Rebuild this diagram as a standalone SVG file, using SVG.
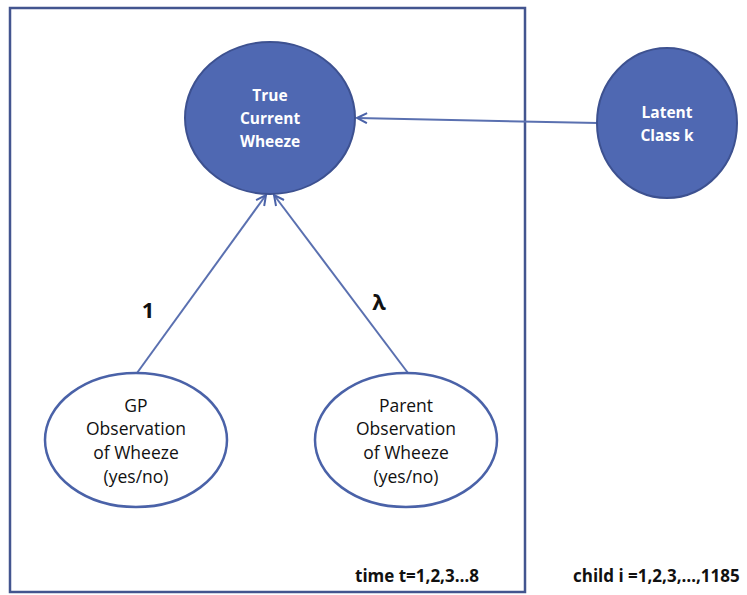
<svg xmlns="http://www.w3.org/2000/svg" width="747" height="595" viewBox="0 0 747 595">
<style>
.frame{fill:none;stroke:#43558f;stroke-width:2.5}
.dark{fill:#4f68b2;stroke:#3d5190;stroke-width:2}
.light{fill:#ffffff;stroke:#4a62a8;stroke-width:2.5}
.wt{font-family:"Open Sans","Noto Sans",sans-serif;font-size:15.5px;font-weight:bold;fill:#ffffff;text-anchor:middle}
.bt{font-family:"Open Sans","Noto Sans",sans-serif;font-size:17.5px;fill:#111111;text-anchor:middle}
.lbl{font-family:"Open Sans","Noto Sans",sans-serif;font-size:22px;font-weight:bold;fill:#111111;text-anchor:middle}
.ft{font-family:"Open Sans","Noto Sans",sans-serif;font-size:17px;font-weight:bold;fill:#111111}
.edge{stroke:#5a70b0;stroke-width:2;fill:none}
</style>
<defs>
<marker id="arr" viewBox="0 0 12 12" refX="11" refY="6" markerWidth="12" markerHeight="12" markerUnits="userSpaceOnUse" orient="auto">
<path d="M1,1 L11,6 L1,11" fill="none" stroke="#4a62a8" stroke-width="2"/>
</marker>
</defs>
<rect class="frame" x="10" y="8" width="515" height="584"/>
<g id="connectors">
<line class="edge" x1="598" y1="123" x2="357" y2="118" marker-end="url(#arr)"/>
<line class="edge" x1="137" y1="373" x2="266" y2="195" marker-end="url(#arr)"/>
<line class="edge" x1="408" y1="373" x2="274" y2="195" marker-end="url(#arr)"/>
<text class="lbl" x="148" y="318">1</text>
<text class="lbl" x="379" y="310">λ</text>
</g>
<g id="true-current-wheeze">
<ellipse class="dark" cx="270" cy="118" rx="85" ry="76"/>
<text class="wt" x="270" y="101">True</text>
<text class="wt" x="270" y="124">Current</text>
<text class="wt" x="270" y="147">Wheeze</text>
</g>
<g id="latent-class">
<ellipse class="dark" cx="667" cy="123" rx="70" ry="75"/>
<text class="wt" x="667" y="118">Latent</text>
<text class="wt" x="667" y="141">Class k</text>
</g>
<g id="gp-observation">
<ellipse class="light" cx="136" cy="440" rx="91" ry="67"/>
<text class="bt" x="136" y="412">GP</text>
<text class="bt" x="136" y="435">Observation</text>
<text class="bt" x="136" y="459">of Wheeze</text>
<text class="bt" x="136" y="483">(yes/no)</text>
</g>
<g id="parent-observation">
<ellipse class="light" cx="406" cy="440" rx="91" ry="67"/>
<text class="bt" x="406" y="412">Parent</text>
<text class="bt" x="406" y="435">Observation</text>
<text class="bt" x="406" y="459">of Wheeze</text>
<text class="bt" x="406" y="483">(yes/no)</text>
</g>
<text class="ft" x="355" y="582">time t=1,2,3…8</text>
<text class="ft" x="573" y="582">child i =1,2,3,…,1185</text>
</svg>
